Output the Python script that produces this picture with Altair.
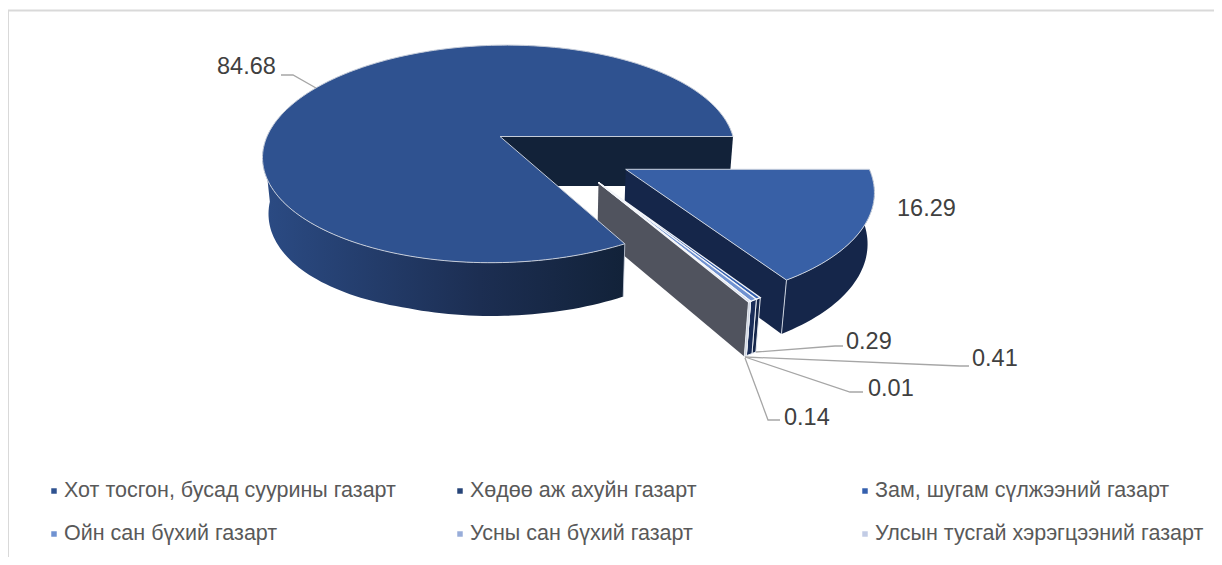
import math
import altair as alt
import pandas as pd

# ---- data ----
categories = ["Хот тосгон, бусад суурины газарт", "Хөдөө аж ахуйн газарт", "Зам, шугам сүлжээний газарт",
              "Ойн сан бүхий газарт", "Усны сан бүхий газарт", "Улсын тусгай хэрэгцээний газарт"]
values = [84.68, 16.29, 0.29, 0.41, 0.01, 0.14]
legend_colors = ["#2F5290", "#264478", "#3560AE", "#7092D1", "#98ADD9", "#C2CCE5"]
small_wall_colors = ["#15264A", "#1A2D58", "#F2F4F8", "#C9CFDC"]

# ---- layout (screen pixels) ----
W, H = 1206, 549
FONT = "Liberation Sans"
PROJ = dict(type="identity", scale=1, translate=[-8, -8])
XS = alt.Scale(domain=[8, 1214], range=[0, W])
YS = alt.Scale(domain=[8, 557], range=[0, H])
XV = 548  # vertical vanishing x


class Piece:
    def __init__(s, x0, y0, A, B, S, k=0.16):
        s.x0, s.y0, s.A, s.B, s.S, s.k = x0, y0, A, B, S, k

    def top(s, deg):
        u, v = math.cos(math.radians(deg)), math.sin(math.radians(deg))
        d = 1 - s.k * v
        return (s.x0 + (s.A * u + s.S * v) / d, s.y0 + s.B * v / d)

    def apex(s):
        return (s.x0, s.y0)


def base(p):
    x, y = p
    # the far-left side of the drum reads a little deeper in perspective
    extra = 6 * max(0.0, (400 - x) / 137)
    return (XV + (x - XV) * 0.979, y + 49.5 + 0.03 * (y - 136) + extra)


def arc(piece, a0, a1):
    n = max(2, int(abs(a1 - a0) / 1.5) + 2)
    return [piece.top(a0 + (a1 - a0) * i / (n - 1)) for i in range(n)]


def poly(points, **style):
    pts = [list(p) for p in points]
    pts.append(pts[0])
    feat = {"type": "Feature", "geometry": {"type": "Polygon", "coordinates": [pts]}, "properties": {}}
    return alt.Chart(alt.Data(values=[feat])).mark_geoshape(**style).project(**PROJ)


def edge(points, color="#CBD2DE", width=1.0):
    feat = {"type": "Feature", "geometry": {"type": "LineString", "coordinates": [list(p) for p in points]},
            "properties": {}}
    return alt.Chart(alt.Data(values=[feat])).mark_geoshape(filled=False, stroke=color, strokeWidth=width).project(**PROJ)


# angles follow from the values, clockwise from east
total = sum(values)
deg = [v / total * 360 for v in values]
main_start = 360 - deg[0]
cum = [0.0]
for d in deg[1:]:
    cum.append(cum[-1] + d)

MAIN = Piece(500, 136.5, 233, 106, -8)
RIGHT = Piece(625.7, 169.3, 243.7, 113.5, 10)
SMALL = Piece(598.5, 182.5, 247, 118, 9)

layers = []

# frame
layers.append(alt.Chart(pd.DataFrame({"x": [1214, 8, 8], "y": [10.5, 10.5, 557], "o": [0, 1, 2]})).mark_line(
    color="#D9D9D9", strokeWidth=2).encode(
    x=alt.X("x:Q", scale=XS, axis=None), y=alt.Y("y:Q", scale=YS, axis=None), order="o:O"))

# main pie: inner wall behind everything
m_start = MAIN.top(360)
layers.append(poly([MAIN.apex(), m_start, base(m_start), base(MAIN.apex())], fill="#122239"))

# right slice
r_end = RIGHT.top(deg[1])
layers.append(poly([RIGHT.apex(), r_end, base(r_end), base(RIGHT.apex())], fill="#15264A"))
r_arc = arc(RIGHT, 0, deg[1])
layers.append(poly(r_arc + [base(p) for p in reversed(r_arc)], fill="#15264A"))
layers.append(edge([r_end, base(r_end)]))
layers.append(poly([RIGHT.apex()] + r_arc, fill="#3860A6", stroke="#CBD2DE", strokeWidth=1))

# small slices, in front of the right slice's wall
sm_a = SMALL.top(main_start)
layers.append(poly([SMALL.apex(), sm_a, base(sm_a), base(SMALL.apex())], fill="#50535E"))
for i in range(2, 6):
    a0, a1 = cum[i - 1], cum[i - 1] + deg[i]
    top_arc = arc(SMALL, a0, a1)
    layers.append(poly(top_arc + [base(p) for p in reversed(top_arc)], fill=small_wall_colors[i - 2],
                       stroke="#E8ECF2", strokeWidth=1))
for i in range(2, 6):
    a0, a1 = cum[i - 1], cum[i - 1] + deg[i]
    layers.append(poly([SMALL.apex()] + arc(SMALL, a0, a1), fill=legend_colors[i], stroke="#F4F6FA",
                       strokeWidth=1.2))

# main pie outer wall + top
grad = alt.LinearGradient(gradient="linear", x1=0, y1=0, x2=1, y2=0, stops=[
    alt.GradientStop(offset=0, color="#2B4B84"),
    alt.GradientStop(offset=0.6, color="#1C2E52"),
    alt.GradientStop(offset=1, color="#122239")])
m_arc = arc(MAIN, main_start, 175)
layers.append(poly(m_arc + [base(p) for p in reversed(m_arc)], fill=grad))
m_end = MAIN.top(main_start)
layers.append(edge([m_end, base(m_end)], width=0.8))
layers.append(poly([MAIN.apex()] + arc(MAIN, main_start, 360), fill="#2F5290", stroke="#C5CCD9", strokeWidth=1))

# leader lines
leaders = pd.DataFrame({
    "id": [0, 0, 0, 1, 1, 1, 2, 2, 2, 3, 3, 3, 4, 4, 4],
    "o": [0, 1, 2] * 5,
    "x": [281, 293, 316, 756, 835, 843, 745, 960, 969, 745, 850, 863, 745, 768, 780],
    "y": [75, 75, 88, 352, 346, 346, 357, 366, 366, 357, 392, 392, 358, 420, 420]})
layers.append(alt.Chart(leaders).mark_line(color="#A6A6A6", strokeWidth=1.3).encode(
    x=alt.X("x:Q", scale=XS, axis=None), y=alt.Y("y:Q", scale=YS, axis=None), detail="id:N", order="o:O"))

# data labels
labels = pd.DataFrame({
    "t": [f"{v:.2f}" for v in values],
    "x": [217, 897, 846, 972, 868, 784],
    "y": [67, 209, 342, 359, 389, 418]})
layers.append(alt.Chart(labels).mark_text(align="left", baseline="middle", font=FONT, fontSize=23.5,
                                          color="#404040").encode(
    x=alt.X("x:Q", scale=XS, axis=None), y=alt.Y("y:Q", scale=YS, axis=None), text="t:N"))

# legend
leg = pd.DataFrame({
    "t": categories,
    "c": legend_colors,
    "x": [64, 470, 875, 64, 470, 875],
    "y": [491, 491, 491, 534, 534, 534]})
leg["sx"] = leg["x"] - 10
layers.append(alt.Chart(leg).mark_point(shape="square", filled=True, size=30, opacity=1).encode(
    x=alt.X("sx:Q", scale=XS, axis=None), y=alt.Y("y:Q", scale=YS, axis=None),
    color=alt.Color("c:N", scale=None)))
layers.append(alt.Chart(leg).mark_text(align="left", baseline="middle", font=FONT, fontSize=21.5,
                                       color="#595959").encode(
    x=alt.X("x:Q", scale=XS, axis=None), y=alt.Y("y:Q", scale=YS, axis=None), text="t:N"))

chart = alt.layer(*layers).properties(
    width=W, height=H, padding=0, autosize=alt.AutoSizeParams(type="none"), background="#FFFFFF"
).configure_view(stroke=None)

chart.save("out.html", embed_options={"renderer": "svg", "actions": False})
